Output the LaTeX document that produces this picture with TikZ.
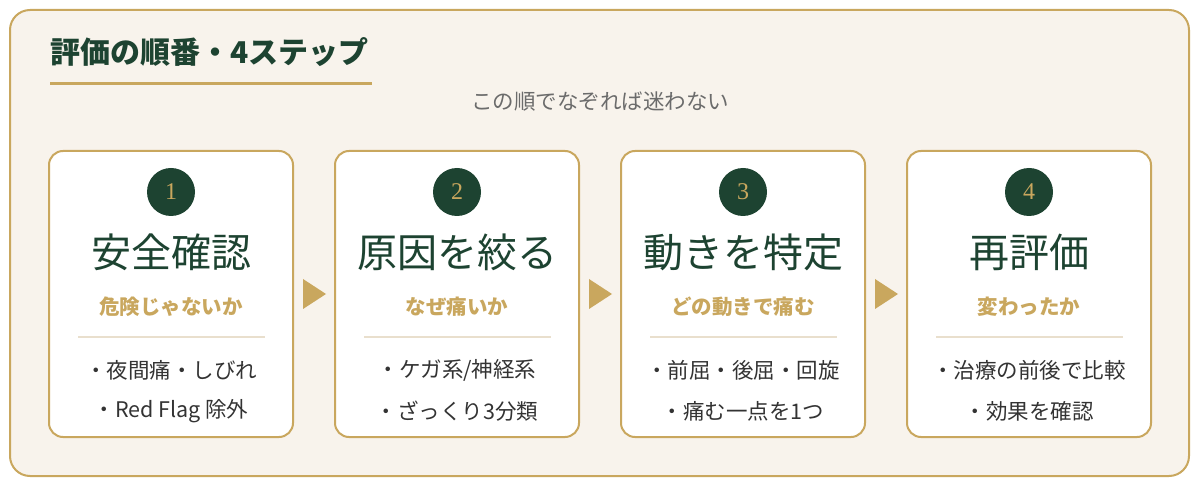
\documentclass[tikz,border=0pt]{standalone}
\usepackage{fontspec}
\setmainfont{Noto Sans CJK JP}
\newfontfamily\numfont{Liberation Serif}
\usetikzlibrary{calc}
\definecolor{GREEN}{HTML}{1D4331}
\definecolor{GOLD}{HTML}{C9A75E}
\definecolor{CREAM}{HTML}{F8F3EC}
\definecolor{INK}{HTML}{333333}
\definecolor{MUTED}{HTML}{6B6B6B}
\definecolor{RULE}{HTML}{E9DFCD}
\tikzset{
FRAME/.style={draw=GOLD, fill=CREAM, line width=2pt, rounded corners=20pt},
BOX/.style={draw=GOLD, fill=white, line width=2pt, rounded corners=14pt, minimum width=244pt, minimum height=286pt, inner sep=0pt},
BADGE/.style={circle, fill=GREEN, minimum size=48pt, inner sep=0pt, text=GOLD, font=\numfont\fontsize{24}{24}\selectfont},
HEAD/.style={text=GREEN, font=\fontsize{40}{40}\selectfont},
ASK/.style={text=GOLD, font=\bfseries\fontsize{20.5}{20.5}\selectfont},
ITEM/.style={text=INK, font=\fontsize{21.5}{21.5}\selectfont},
DIVIDE/.style={draw=RULE, line width=1.5pt},
NEXT/.style={fill=GOLD},
}

\begin{document}
\begin{tikzpicture}[x=1pt, y=-1pt] %four steps
	\useasboundingbox (0,0) rectangle (1200,486);
	\path[FRAME] (10,10) rectangle (1189,476);
	\node[anchor=west, inner sep=0pt, text=GREEN, font=\bfseries\fontsize{30}{30}\selectfont] (title) at (50,52) {評価の順番・4ステップ};
	\path[draw=GOLD, line width=3pt] (50,84) -- (372,84);
	\node[text=MUTED, font=\fontsize{21.5}{21.5}\selectfont] (lead) at (600,102) {この順でなぞれば迷わない};
	\node[BOX] (box1) at (171,294) {};
	\node[BOX] (box2) at (457,294) {};
	\node[BOX] (box3) at (743,294) {};
	\node[BOX] (box4) at (1029,294) {};
	% step 1
	\node[BADGE] (n1) at ($(box1.north)+(0,42)$) {1};
	\node[HEAD] (h1) at ($(box1.north)+(0,102)$) {安全確認};
	\node[ASK] (q1) at ($(box1.north)+(0,157)$) {危険じゃないか};
	\path[DIVIDE] ($(box1.north)+(-93,187)$) -- ($(box1.north)+(94,187)$);
	\node[ITEM] (a1) at ($(box1.north)+(0,220)$) {・夜間痛・しびれ};
	\node[ITEM] (b1) at ($(box1.north)+(0,261)$) {・Red Flag 除外};
	% step 2
	\node[BADGE] (n2) at ($(box2.north)+(0,42)$) {2};
	\node[HEAD] (h2) at ($(box2.north)+(0,102)$) {原因を絞る};
	\node[ASK] (q2) at ($(box2.north)+(0,157)$) {なぜ痛いか};
	\path[DIVIDE] ($(box2.north)+(-93,187)$) -- ($(box2.north)+(94,187)$);
	\node[ITEM] (a2) at ($(box2.north)+(0,220)$) {・ケガ系/神経系};
	\node[ITEM] (b2) at ($(box2.north)+(0,261)$) {・ざっくり3分類};
	% step 3
	\node[BADGE] (n3) at ($(box3.north)+(0,42)$) {3};
	\node[HEAD] (h3) at ($(box3.north)+(0,102)$) {動きを特定};
	\node[ASK] (q3) at ($(box3.north)+(0,157)$) {どの動きで痛む};
	\path[DIVIDE] ($(box3.north)+(-93,187)$) -- ($(box3.north)+(94,187)$);
	\node[ITEM] (a3) at ($(box3.north)+(0,220)$) {・前屈・後屈・回旋};
	\node[ITEM] (b3) at ($(box3.north)+(0,261)$) {・痛む一点を1つ};
	% step 4
	\node[BADGE] (n4) at ($(box4.north)+(0,42)$) {4};
	\node[HEAD] (h4) at ($(box4.north)+(0,102)$) {再評価};
	\node[ASK] (q4) at ($(box4.north)+(0,157)$) {変わったか};
	\path[DIVIDE] ($(box4.north)+(-93,187)$) -- ($(box4.north)+(94,187)$);
	\node[ITEM] (a4) at ($(box4.north)+(0,220)$) {・治療の前後で比較};
	\node[ITEM] (b4) at ($(box4.north)+(0,261)$) {・効果を確認};
	% arrows
	\coordinate (m12) at ($(box1.east)!.5!(box2.west)$);
	\coordinate (m23) at ($(box2.east)!.5!(box3.west)$);
	\coordinate (m34) at ($(box3.east)!.5!(box4.west)$);
	\path[NEXT] ($(m12)+(-11,-15)$) -- ($(m12)+(12,0)$) -- ($(m12)+(-11,15)$) -- cycle;
	\path[NEXT] ($(m23)+(-11,-15)$) -- ($(m23)+(12,0)$) -- ($(m23)+(-11,15)$) -- cycle;
	\path[NEXT] ($(m34)+(-11,-15)$) -- ($(m34)+(12,0)$) -- ($(m34)+(-11,15)$) -- cycle;
\end{tikzpicture}
\end{document}
